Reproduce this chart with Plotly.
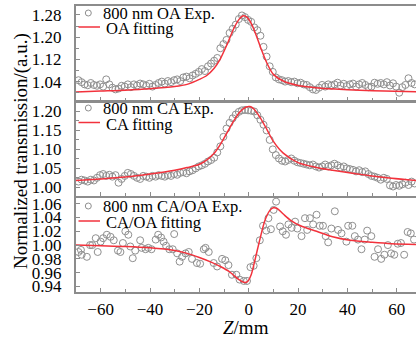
import plotly.graph_objects as go

# ---- scan positions (mm) for the OA and CA scans ----
z_scan = [round(-69 + 1.25 * i, 2) for i in range(110)]

# open-aperture transmission
oa_exp = [1.045, 1.038, 1.030, 1.027, 1.035, 1.028, 1.025, 1.030, 1.022, 1.048,
          1.030, 1.018, 1.012, 1.015, 1.025, 1.022, 1.030, 1.020, 1.030, 1.026,
          1.033, 1.030, 1.025, 1.032, 1.022, 1.028, 1.035, 1.040, 1.033, 1.042,
          1.038, 1.045, 1.048, 1.042, 1.055, 1.058, 1.052, 1.062, 1.068, 1.075,
          1.085, 1.078, 1.095, 1.105, 1.115, 1.125, 1.160, 1.175, 1.190, 1.215,
          1.230, 1.245, 1.265, 1.278, 1.272, 1.262, 1.255, 1.235, 1.225, 1.205,
          1.165, 1.130, 1.095, 1.075, 1.055, 1.048, 1.045, 1.040, 1.042, 1.038,
          1.040, 1.034, 1.036, 1.030, 1.028, 1.020, 1.012, 1.010, 1.018, 1.028,
          1.022, 1.030, 1.025, 1.030, 1.036, 1.026, 1.032, 1.024, 1.030, 1.033,
          1.022, 1.030, 1.035, 1.028, 1.020, 1.022, 1.036, 1.032, 1.035, 1.030,
          1.038, 1.026, 1.034, 1.022, 1.000, 1.020, 1.028, 1.052, 1.035, 1.030]

oa_fit_z = [-70, -60, -50, -40, -30, -25, -20, -17, -14, -11.5, -8.7, -6, -4, -2.5,
            -1, 0.5, 2, 3.5, 5, 7.4, 10, 14, 20, 27, 35, 45, 55, 68]
oa_fit = [1.003, 1.006, 1.009, 1.014, 1.022, 1.030, 1.048, 1.062, 1.088, 1.122,
          1.175, 1.232, 1.263, 1.276, 1.274, 1.258, 1.230, 1.195, 1.158, 1.106,
          1.066, 1.042, 1.026, 1.018, 1.013, 1.009, 1.006, 1.003]

# closed-aperture transmission
ca_exp = [1.015, 1.020, 1.018, 1.015, 1.020, 1.018, 1.025, 1.032, 1.035, 1.030,
          1.033, 1.028, 1.032, 1.012, 1.022, 1.030, 1.038, 1.035, 1.030, 1.025,
          1.022, 1.030, 1.028, 1.025, 1.030, 1.028, 1.032, 1.030, 1.028, 1.032,
          1.030, 1.035, 1.033, 1.038, 1.040, 1.037, 1.042, 1.045, 1.050, 1.055,
          1.058, 1.062, 1.068, 1.072, 1.078, 1.092, 1.108, 1.133, 1.155, 1.170,
          1.182, 1.192, 1.199, 1.203, 1.204, 1.203, 1.202, 1.200, 1.190, 1.178,
          1.165, 1.150, 1.125, 1.100, 1.085, 1.076, 1.070, 1.068, 1.072, 1.076,
          1.070, 1.066, 1.064, 1.062, 1.060, 1.058, 1.060, 1.055, 1.052, 1.055,
          1.060, 1.055, 1.058, 1.062, 1.058, 1.052, 1.055, 1.050, 1.048, 1.046,
          1.042, 1.045, 1.040, 1.042, 1.035, 1.030, 1.028, 1.025, 1.020, 1.025,
          1.022, 1.005, 1.002, 1.006, 1.004, 1.008, 1.012, 1.006, 1.015, 1.010]

ca_fit_z = [-70, -60, -50, -40, -30, -25, -19.5, -14, -11.5, -8.7, -6, -3.4, -1, 0.5,
            2, 4.7, 7.4, 10, 14, 20, 27, 34, 42, 50, 58, 68]
ca_fit = [1.018, 1.022, 1.027, 1.035, 1.045, 1.052, 1.062, 1.090, 1.113, 1.145,
          1.176, 1.200, 1.212, 1.213, 1.207, 1.183, 1.152, 1.121, 1.090, 1.065,
          1.053, 1.045, 1.037, 1.030, 1.024, 1.018]

# CA/OA ratio
ratio_z = [-69, -68, -67.7, -65.6, -64.3, -63.4, -62, -61.2, -60, -59, -57.5, -56,
           -54.7, -53, -52, -51, -50, -48.8, -48, -47, -46, -44, -43.4, -41.8,
           -40.7, -39.4, -37.7, -36.7, -35.5, -34.5, -33.5, -32.2, -30.8, -30.2,
           -29, -28, -27, -25.6, -24.3, -23, -21, -19.7, -18.2, -17.5, -16.2,
           -14.2, -12.8, -10.8, -9.5, -8.2, -6.8, -5, -3.7, -2, -0.7, 0.7, 2, 3.1,
           4.5, 5.8, 7.1, 8, 9, 10.1, 11.1, 12.7, 13.8, 15.1, 16.1, 17.4, 18.8,
           19.7, 21.4, 22.8, 23.7, 24.8, 26.1, 27.5, 28.8, 30.1, 31.2, 32.2, 33.5,
           34.9, 36.2, 37.6, 39.6, 40.3, 42, 43, 44.3, 45.7, 47, 48, 49.7, 51,
           52.4, 53.7, 55, 56.4, 57.7, 59, 60.4, 61.7, 63, 64.4, 65.7, 67]
ratio_exp = [0.990, 0.993, 0.986, 0.983, 1.000, 1.000, 1.010, 0.990, 1.005, 1.010,
             1.015, 1.012, 1.007, 0.992, 0.990, 1.003, 1.020, 1.015, 0.998, 0.981,
             0.992, 1.007, 0.996, 0.994, 0.996, 0.994, 1.008, 1.015, 1.011, 1.005,
             0.999, 0.994, 0.994, 1.016, 0.988, 0.976, 0.983, 0.988, 0.990, 0.980,
             0.974, 0.973, 0.994, 0.996, 0.990, 0.974, 0.969, 0.980, 0.978, 0.971,
             0.957, 0.957, 0.950, 0.948, 0.948, 0.968, 0.970, 0.981, 1.007, 1.028,
             1.021, 1.039, 1.023, 1.051, 1.063, 1.027, 1.020, 1.015, 1.030, 1.025,
             1.034, 1.024, 1.013, 1.039, 1.022, 1.039, 1.030, 1.044, 1.028, 1.028,
             1.013, 1.004, 1.024, 1.049, 1.022, 1.017, 1.005, 1.028, 1.028, 1.013,
             1.008, 0.994, 1.008, 1.021, 1.013, 0.983, 0.994, 0.980, 0.986, 1.000,
             0.988, 0.986, 1.002, 1.003, 0.986, 1.019, 1.017, 1.008]

ratio_fit_z = [-70, -60, -50, -40, -30, -25, -20, -15, -11.5, -8, -6, -4, -2, -0.5,
               1, 2.5, 4.5, 6.5, 8.5, 10, 11.5, 14, 17, 21, 27.5, 34, 41, 50, 58, 68]
ratio_fit = [1.000, 0.999, 0.998, 0.996, 0.992, 0.988, 0.982, 0.975, 0.969, 0.962,
             0.956, 0.950, 0.946, 0.947, 0.957, 0.978, 1.008, 1.035, 1.050, 1.054,
             1.053, 1.045, 1.036, 1.028, 1.020, 1.012, 1.007, 1.004, 1.002, 1.001]

x_ticks = [-60, -40, -20, 0, 20, 40, 60]

FONT = "Liberation Serif, Times New Roman, serif"
GREY = "#8c8c8c"
MARK = "#8f8f8f"
RED = "#f2323c"
W, H = 416, 340
ML, MT, MB = 76, 6, 48
PW, PH = W - ML, H - MT - MB


def px(x):
    return (x - ML) / PW


def py(y):
    return (H - MB - y) / PH


fig = go.Figure()

panels = [
    ("", "y", z_scan, oa_exp, oa_fit_z, oa_fit),
    ("2", "y2", z_scan, ca_exp, ca_fit_z, ca_fit),
    ("3", "y3", ratio_z, ratio_exp, ratio_fit_z, ratio_fit),
]
for sfx, yref, zx, ye, zf, yf in panels:
    fig.add_trace(go.Scatter(
        x=zx, y=ye, mode="markers", xaxis="x" + sfx, yaxis=yref,
        marker=dict(symbol="circle-open", size=7, color=MARK,
                    line=dict(width=1, color=MARK)),
        showlegend=False, cliponaxis=True))
    fig.add_trace(go.Scatter(
        x=zf, y=yf, mode="lines", xaxis="x" + sfx, yaxis=yref,
        line=dict(color=RED, width=1.5, shape="spline", smoothing=0.8),
        showlegend=False))

xcommon = dict(range=[-70, 67.8], showline=True, linecolor=GREY, linewidth=2,
               mirror=True, ticks="inside", ticklen=4, tickcolor=GREY,
               tickvals=x_ticks, showgrid=False, zeroline=False,
               minor=dict(ticks="inside", ticklen=3, dtick=10, tick0=0,
                          tickcolor=GREY))
ycommon = dict(showline=True, linecolor=GREY, linewidth=2, mirror=False,
               ticks="inside", ticklen=4, tickcolor=GREY, showgrid=False,
               zeroline=False, tickformat=".2f", ticklabelstandoff=9,
               tickfont=dict(family=FONT, size=17, color="black"))

top_dom = [py(100.5), 1.0]
mid_dom = [py(196), py(102)]
bot_dom = [0.0, py(197.5)]

fig.update_layout(
    width=W, height=H,
    margin=dict(l=ML, r=0, t=MT, b=MB),
    paper_bgcolor="white", plot_bgcolor="white",
    font=dict(family=FONT, size=17, color="black"),
    xaxis=dict(xcommon, domain=[0, 1], anchor="y", showticklabels=False),
    xaxis2=dict(xcommon, domain=[0, 1], anchor="y2", showticklabels=False),
    xaxis3=dict(xcommon, domain=[0, 1], anchor="y3", showticklabels=True,
                ticklabelstandoff=1,
                tickfont=dict(family=FONT, size=17, color="black")),
    yaxis=dict(ycommon, domain=top_dom, anchor="x", range=[0.972, 1.312],
               tickvals=[1.04, 1.12, 1.20, 1.28],
               minor=dict(ticks="inside", ticklen=2.5, dtick=0.04, tick0=1.0,
                          tickcolor=GREY)),
    yaxis2=dict(ycommon, domain=mid_dom, anchor="x2", range=[0.977, 1.225],
                tickvals=[1.00, 1.05, 1.10, 1.15, 1.20],
                minor=dict(ticks="inside", ticklen=2.5, dtick=0.025, tick0=1.0,
                           tickcolor=GREY)),
    yaxis3=dict(ycommon, domain=bot_dom, anchor="x3", range=[0.932, 1.069],
                tickvals=[0.94, 0.96, 0.98, 1.00, 1.02, 1.04, 1.06]),
)

# legend boxes drawn inside each panel
legend_rows = [
    (13.5, 28.5, "800 nm OA Exp.", "OA fitting"),
    (108.5, 124, "800 nm CA Exp.", "CA fitting"),
    (206.5, 222.5, "800 nm CA/OA Exp.", "CA/OA fitting"),
]
for y1, y2, t1, t2 in legend_rows:
    fig.add_shape(type="circle", xref="paper", yref="paper",
                  x0=px(85.3), x1=px(91.3), y0=py(y1 + 2.5), y1=py(y1 - 3.5),
                  line=dict(color=MARK, width=1))
    fig.add_shape(type="line", xref="paper", yref="paper",
                  x0=px(78.5), x1=px(100), y0=py(y2 - 1.5), y1=py(y2 - 1.5),
                  line=dict(color=RED, width=1.5))
    fig.add_annotation(text=t1, xref="paper", yref="paper", x=px(101), y=py(y1),
                       xanchor="left", yanchor="middle", showarrow=False,
                       font=dict(family=FONT, size=16.5, color="black"))
    fig.add_annotation(text=t2, xref="paper", yref="paper", x=px(104), y=py(y2),
                       xanchor="left", yanchor="middle", showarrow=False,
                       font=dict(family=FONT, size=16.5, color="black"))

fig.add_annotation(text="<i>Z</i>/mm", xref="paper", yref="paper",
                   x=px(246), y=py(327), xanchor="center", yanchor="middle",
                   showarrow=False, font=dict(family=FONT, size=19, color="black"))
fig.add_annotation(text="Normalized transmission/(a.u.)", xref="paper", yref="paper",
                   x=px(21), y=py(151), xanchor="center", yanchor="middle",
                   textangle=-90, showarrow=False,
                   font=dict(family=FONT, size=19, color="black"))

fig.write_html("out.html")
